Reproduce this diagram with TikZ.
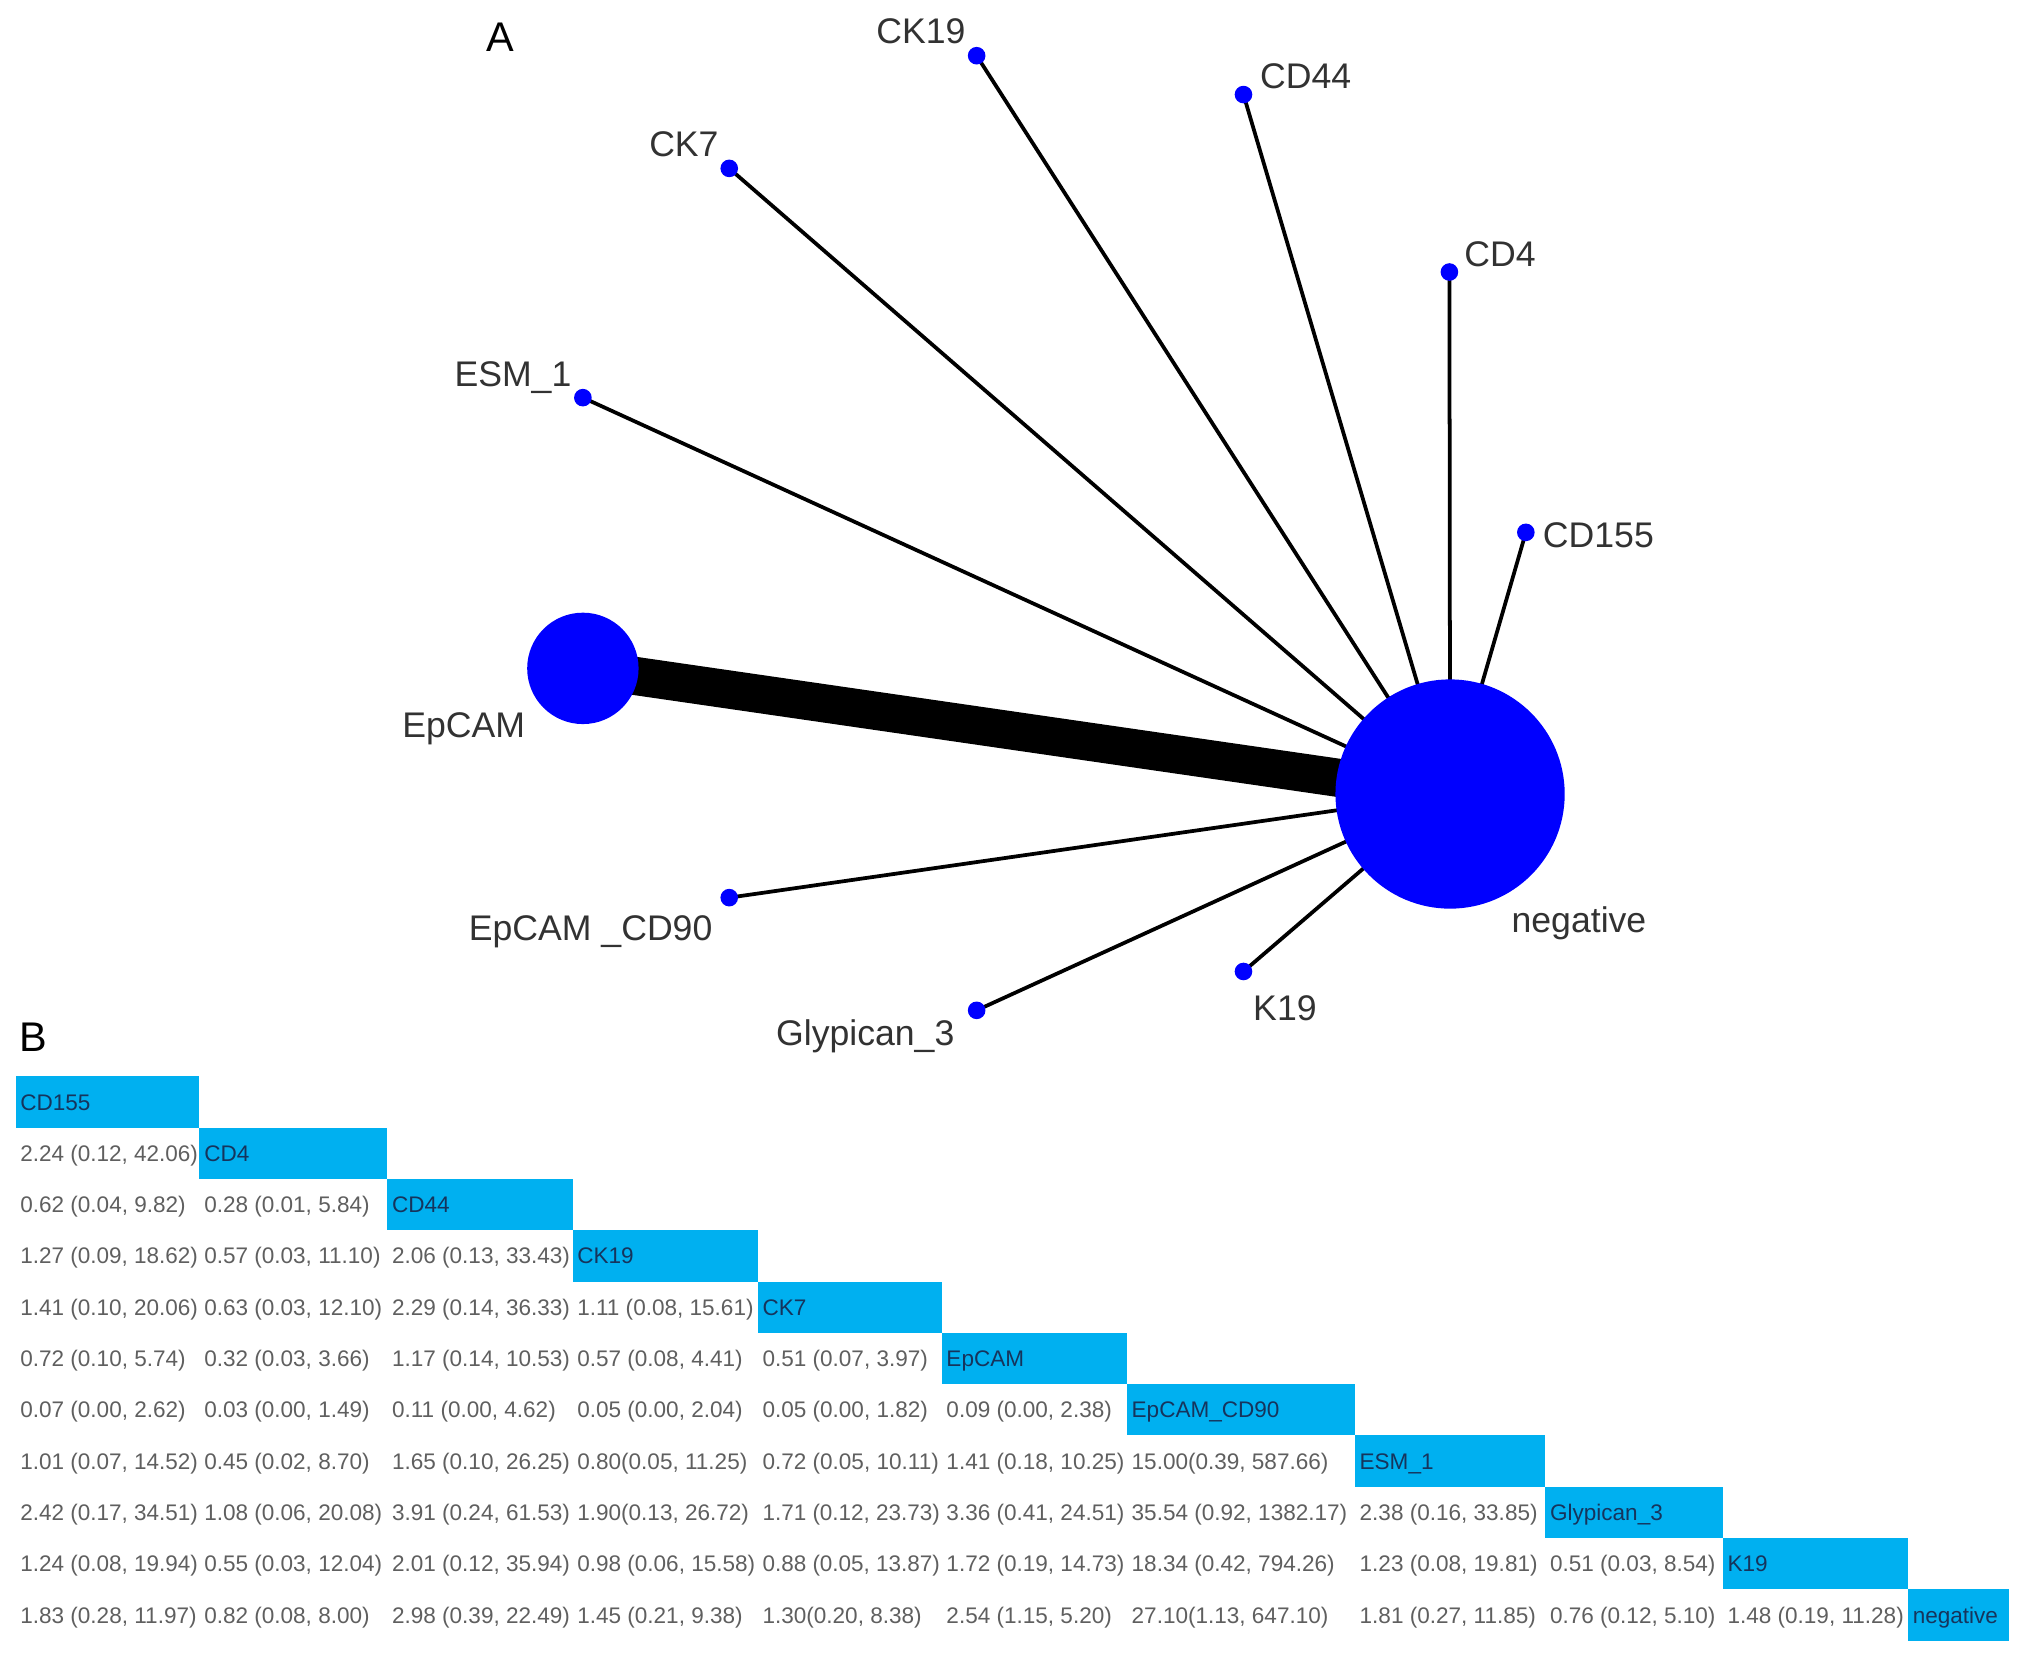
\documentclass[tikz,border=0pt]{standalone}
\usepackage{fontspec}
\usepackage{graphicx}
\setmainfont{Liberation Sans}
\usetikzlibrary{backgrounds}
\definecolor{netblue}{RGB}{0,0,255}
\definecolor{cellblue}{RGB}{0,176,240}
\definecolor{labgray}{RGB}{50,50,50}
\definecolor{numgray}{RGB}{95,95,95}
\definecolor{cellnavy}{RGB}{22,52,92}
\newcommand\fitto[2]{\setbox0\hbox{#2}\ifdim\wd0>#1pt\relax\resizebox{#1pt}{\height}{#2}\else\box0\fi}
\def\colL{{12,154,299,442,585,727,870,1046,1193,1330,1473,1551}}
\newcommand\numcell[3]{%
  \pgfmathsetmacro\xl{\colL[#2]}%
  \pgfmathsetmacro\xr{\colL[#2+1]}%
  \pgfmathsetmacro\yb{831+39.6*#1+19.8+6.2}%
  \pgfmathsetmacro\wmax{\xr-\xl-5}%
  \node[numtxt] (n-#1-#2) at (\xl+3.5,\yb) {\fitto{\wmax}{#3}};}
\newcommand\diagcell[2]{%
  \pgfmathsetmacro\xl{\colL[#1]}%
  \pgfmathsetmacro\xr{\colL[#1+1]}%
  \pgfmathsetmacro\yt{831+39.6*#1}%
  \pgfmathsetmacro\yb{831+39.6*#1+19.8+6.2}%
  \pgfmathsetmacro\wmax{\xr-\xl-5}%
  \fill[cellblue] (\xl,\yt) rectangle (\xr,\yt+39.6);
  \node[boxtxt] (d-#1) at (\xl+3.5,\yb) {\fitto{\wmax}{#2}};}
\begin{document}
\begin{tikzpicture}[x=1pt,y=-1pt,
  dot/.style={circle,fill=netblue,inner sep=0pt,minimum size=13.6pt},
  bigdot/.style={circle,fill=netblue,inner sep=0pt},
  lab/.style={font=\fontsize{27.5}{30}\selectfont,text=labgray,inner sep=0pt,anchor=base},
  panel/.style={font=\fontsize{32}{36}\selectfont,text=black,inner sep=0pt,anchor=base},
  edgethin/.style={line width=2.9pt,black},
  edgethick/.style={line width=29.5pt,black},
  numtxt/.style={font=\fontsize{17.4}{20}\selectfont,text=numgray,inner sep=0pt,anchor=base west},
  boxtxt/.style={font=\fontsize{17.4}{20}\selectfont,text=cellnavy,inner sep=0pt,anchor=base west}]
\useasboundingbox (0,0) rectangle (1568,1283);
% ---- panel A: network ----
\node[dot] (ck19) at (754,43) {};
\node[dot] (cd44) at (960,73) {};
\node[dot] (ck7) at (563,130) {};
\node[dot] (cd4) at (1119,210) {};
\node[dot] (esm) at (450,307) {};
\node[dot] (cd155) at (1178,411) {};
\node[bigdot,minimum size=86pt] (epcam) at (450,516) {};
\node[bigdot,minimum size=177pt] (neg) at (1119.5,613) {};
\node[dot] (cd90) at (563,693) {};
\node[dot] (gly) at (754,780) {};
\node[dot] (k19) at (960,750) {};
\begin{pgfonlayer}{background}
\fill[white] (0,0) rectangle (1568,1283);
\draw[edgethick] (epcam.center) -- (neg.center);
\foreach \n in {ck19,cd44,ck7,cd4,esm,cd155,cd90,gly,k19}
  \draw[edgethin] (\n.center) -- (neg.center);
\end{pgfonlayer}
\node[lab] (ck19-l) at (711,33.5) {CK19};
\node[lab] (cd44-l) at (1008,68) {CD44};
\node[lab] (ck7-l) at (528,121) {CK7};
\node[lab] (cd4-l) at (1158,206) {CD4};
\node[lab] (esm-l) at (396,298) {ESM\_1};
\node[lab] (cd155-l) at (1234,423) {CD155};
\node[lab] (epcam-l) at (358,569) {EpCAM};
\node[lab] (neg-l) at (1219,720) {negative};
\node[lab] (cd90-l) at (456,726) {EpCAM \_CD90};
\node[lab] (gly-l) at (668,807) {Glypican\_3};
\node[lab] (k19-l) at (992,788) {K19};
\node[panel] (A) at (386,40) {A};
\node[panel] (B) at (26,812) {B};
% ---- panel B: league table ----
\diagcell{0}{CD155}
\diagcell{1}{CD4}
\diagcell{2}{CD44}
\diagcell{3}{CK19}
\diagcell{4}{CK7}
\diagcell{5}{EpCAM}
\diagcell{6}{EpCAM\_CD90}
\diagcell{7}{ESM\_1}
\diagcell{8}{Glypican\_3}
\diagcell{9}{K19}
\diagcell{10}{negative}
\numcell{1}{0}{2.24 (0.12, 42.06)}
\numcell{2}{0}{0.62 (0.04, 9.82)}
\numcell{2}{1}{0.28 (0.01, 5.84)}
\numcell{3}{0}{1.27 (0.09, 18.62)}
\numcell{3}{1}{0.57 (0.03, 11.10)}
\numcell{3}{2}{2.06 (0.13, 33.43)}
\numcell{4}{0}{1.41 (0.10, 20.06)}
\numcell{4}{1}{0.63 (0.03, 12.10)}
\numcell{4}{2}{2.29 (0.14, 36.33)}
\numcell{4}{3}{1.11 (0.08, 15.61)}
\numcell{5}{0}{0.72 (0.10, 5.74)}
\numcell{5}{1}{0.32 (0.03, 3.66)}
\numcell{5}{2}{1.17 (0.14, 10.53)}
\numcell{5}{3}{0.57 (0.08, 4.41)}
\numcell{5}{4}{0.51 (0.07, 3.97)}
\numcell{6}{0}{0.07 (0.00, 2.62)}
\numcell{6}{1}{0.03 (0.00, 1.49)}
\numcell{6}{2}{0.11 (0.00, 4.62)}
\numcell{6}{3}{0.05 (0.00, 2.04)}
\numcell{6}{4}{0.05 (0.00, 1.82)}
\numcell{6}{5}{0.09 (0.00, 2.38)}
\numcell{7}{0}{1.01 (0.07, 14.52)}
\numcell{7}{1}{0.45 (0.02, 8.70)}
\numcell{7}{2}{1.65 (0.10, 26.25)}
\numcell{7}{3}{0.80(0.05, 11.25)}
\numcell{7}{4}{0.72 (0.05, 10.11)}
\numcell{7}{5}{1.41 (0.18, 10.25)}
\numcell{7}{6}{15.00(0.39, 587.66)}
\numcell{8}{0}{2.42 (0.17, 34.51)}
\numcell{8}{1}{1.08 (0.06, 20.08)}
\numcell{8}{2}{3.91 (0.24, 61.53)}
\numcell{8}{3}{1.90(0.13, 26.72)}
\numcell{8}{4}{1.71 (0.12, 23.73)}
\numcell{8}{5}{3.36 (0.41, 24.51)}
\numcell{8}{6}{35.54 (0.92, 1382.17)}
\numcell{8}{7}{2.38 (0.16, 33.85)}
\numcell{9}{0}{1.24 (0.08, 19.94)}
\numcell{9}{1}{0.55 (0.03, 12.04)}
\numcell{9}{2}{2.01 (0.12, 35.94)}
\numcell{9}{3}{0.98 (0.06, 15.58)}
\numcell{9}{4}{0.88 (0.05, 13.87)}
\numcell{9}{5}{1.72 (0.19, 14.73)}
\numcell{9}{6}{18.34 (0.42, 794.26)}
\numcell{9}{7}{1.23 (0.08, 19.81)}
\numcell{9}{8}{0.51 (0.03, 8.54)}
\numcell{10}{0}{1.83 (0.28, 11.97)}
\numcell{10}{1}{0.82 (0.08, 8.00)}
\numcell{10}{2}{2.98 (0.39, 22.49)}
\numcell{10}{3}{1.45 (0.21, 9.38)}
\numcell{10}{4}{1.30(0.20, 8.38)}
\numcell{10}{5}{2.54 (1.15, 5.20)}
\numcell{10}{6}{27.10(1.13, 647.10)}
\numcell{10}{7}{1.81 (0.27, 11.85)}
\numcell{10}{8}{0.76 (0.12, 5.10)}
\numcell{10}{9}{1.48 (0.19, 11.28)}
\end{tikzpicture}
\end{document}
